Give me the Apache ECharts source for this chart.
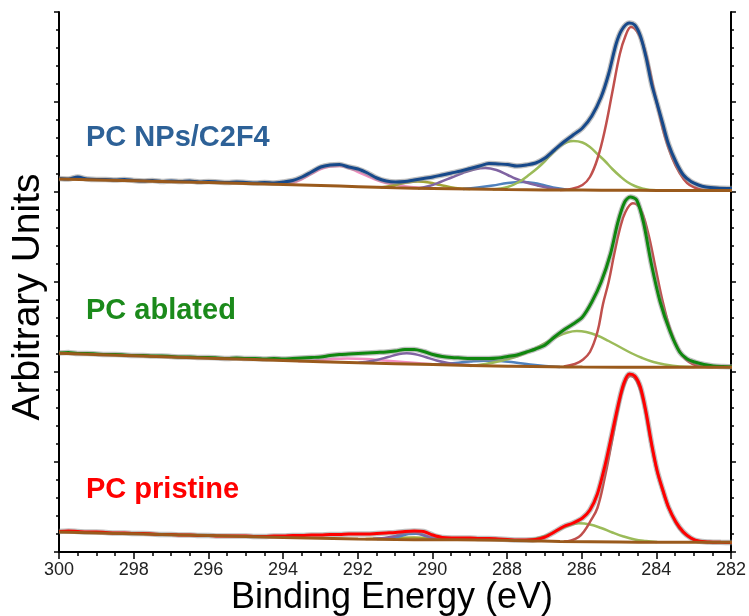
<!DOCTYPE html>
<html><head><meta charset="utf-8">
<script src="https://cdn.jsdelivr.net/npm/echarts@6/dist/echarts.min.js"></script>
<style>html,body{margin:0;padding:0;background:#fff}#c{width:749px;height:616px}</style>
</head><body><div id="c"></div>
<script>
// ---------- DATA (binding energy eV, intensity in arbitrary units per panel) ----------
const panelNames = ['PC NPs/C2F4', 'PC ablated', 'PC pristine'];
const xAxisTitle = 'Binding Energy (eV)';
const yAxisTitle = 'Arbitrary Units';

// Top panel: PC NPs/C2F4
const topData = [[300,13.5],[299.75,13],[299.5,15],[299.25,13],[299,12.5],[298.75,12.5],[298.5,12],[298.25,12.5],[298,11.5],[297.75,11],[297.5,11.5],[297.25,10.5],[297,11],[296.75,10.5],[296.5,11],[296.25,10],[296,10.5],[295.75,10],[295.5,9.5],[295.25,10],[295,9.5],[294.75,9],[294.5,9.5],[294.25,9],[294,10],[293.75,11.5],[293.5,15],[293.25,20],[293,25],[292.75,27],[292.5,27.5],[292.25,25],[292,23],[291.75,19],[291.5,14],[291.25,11],[291,10],[290.75,10.5],[290.5,12],[290.25,13.5],[290,15],[289.75,17],[289.5,19],[289.25,21],[289,23.5],[288.75,26],[288.5,28.5],[288.25,28],[288,27.5],[287.75,26],[287.5,27],[287.25,29],[287,34],[286.75,42],[286.5,50],[286.25,57],[286,64],[285.75,76],[285.5,95],[285.3,118],[285.1,148],[284.95,162],[284.75,169],[284.6,167],[284.45,156],[284.3,135],[284.15,108],[284,88],[283.85,68],[283.7,48],[283.5,30],[283.3,17],[283.1,10.5],[282.9,7],[282.7,5],[282.4,4],[282,3.5]];
const topBase = [[300,13],[298,11.2],[296,9.4],[294,7.6],[293,6.5],[292,5.3],[291,4.2],[290,3.5],[289,2.9],[288,2.4],[287,2.1],[286,1.9],[285,1.7],[284,1.6],[282,1.5]];
const topC1 = [[286.6,2],[286.3,3],[286,7],[285.8,15],[285.6,33],[285.4,62],[285.2,100],[285,138],[284.85,156],[284.7,165],[284.55,161],[284.4,150],[284.25,130],[284.1,104],[283.95,79],[283.8,56],[283.6,34],[283.4,19],[283.2,9],[283,4.5],[282.8,2.2],[282.5,1.6]];
const topC2 = [[288.4,2.5],[288,5],[287.7,10],[287.4,18],[287.2,24],[287,31],[286.8,39],[286.6,46],[286.4,50],[286.24,51],[286,49.5],[285.8,45],[285.6,38],[285.4,31],[285.2,23],[285,16],[284.8,10],[284.6,6],[284.4,3.5],[284.2,2],[283.8,1.6]];
const topPurple = [[290.4,3.5],[290.1,6],[289.8,10],[289.5,14.5],[289.2,19],[288.9,22.5],[288.6,24],[288.3,22],[288,17],[287.8,13.5],[287.5,9.5],[287.2,6.5],[286.9,4],[286.6,2.4]];
const topBlue = [[289.2,3],[288.8,4.5],[288.4,6.5],[288,9],[287.6,10],[287.3,9],[287,6.5],[286.7,4],[286.4,2.3]];
const topOlive = [[291.4,4.5],[291,7],[290.7,9.5],[290.4,10.5],[290.1,9.5],[289.8,7],[289.4,4],[289,3]];
const topPink = [[294,7.6],[293.75,9],[293.5,13],[293.25,18],[293,23],[292.75,25.5],[292.5,26],[292.25,24],[292,20],[291.75,16],[291.5,12],[291.25,9],[291,7],[290.6,5],[290.2,3.8]];

// Middle panel: PC ablated
const midData = [[300,19],[299.75,19.5],[299.5,18.5],[299.25,18.5],[299,18],[298.75,17.5],[298.5,17.5],[298.25,17],[298,16.5],[297.75,16.5],[297.5,16],[297.25,16],[297,15.5],[296.75,15],[296.5,15],[296.25,14.5],[296,14.5],[295.75,14],[295.5,13.5],[295.25,14],[295,13.5],[294.75,13.5],[294.5,13],[294.25,13.5],[294,13],[293.75,13.5],[293.5,14],[293.25,14.5],[293,15],[292.75,16.5],[292.5,17.5],[292.25,18],[292,18.5],[291.75,19],[291.5,19.5],[291.25,20],[291,21],[290.75,22.5],[290.5,22.5],[290.25,20.5],[290,17.5],[289.75,15.5],[289.5,14.5],[289.25,14],[289,13.5],[288.75,13.5],[288.5,13.5],[288.25,14],[288,15.5],[287.75,17],[287.5,20],[287.25,23],[287,27],[286.75,35],[286.5,42],[286.25,48],[286,55],[285.75,70],[285.5,90],[285.25,118],[285.05,150],[284.87,170],[284.72,175],[284.55,172],[284.37,150],[284.15,107],[283.92,70],[283.65,40],[283.4,20],[283.2,13],[283,10],[282.75,7.5],[282.5,6],[282.25,5.5],[282,5.3]];
const midBase = [[300,18.7],[298,16.2],[296,13.8],[294,11.5],[292,9.3],[290,7.5],[288,5.8],[286,4.9],[284,4.8],[282,4.8]];
const midC1 = [[286.5,5.5],[286.2,8],[286,12],[285.8,20],[285.6,40],[285.45,68],[285.3,90],[285.15,118],[285,143],[284.85,160],[284.65,168.7],[284.45,163],[284.25,140],[284.05,105],[283.85,70],[283.65,42],[283.45,24],[283.25,13],[283.05,8],[282.8,5.5],[282.5,5]];
const midC2 = [[289,6],[288.6,8],[288.2,11],[287.8,15],[287.4,21],[287,29],[286.7,35],[286.4,39.5],[286.15,41],[285.9,40],[285.6,36.5],[285.3,31],[285,25],[284.7,19],[284.4,14],[284.1,10],[283.8,7.5],[283.4,5.5],[283,5]];
const midPurple = [[292,9.5],[291.8,10],[291.5,12],[291.2,15],[290.9,18],[290.7,18.7],[290.5,18],[290.2,15],[289.9,11.5],[289.6,9],[289.3,7.5],[289,7]];
const midBlue = [[290,7.5],[289.8,7.8],[289.4,9],[289,10.5],[288.6,11.3],[288.2,11],[287.8,9.5],[287.4,7.5],[287,6],[286.6,5]];
const midPink = [[293.6,10.8],[293.3,11.2],[292.8,12.5],[292.3,13.5],[291.8,13],[291.3,11.5],[290.8,10],[290.3,8.5],[289.8,7.3]];

// Bottom panel: PC pristine
const botData = [[300,20.5],[299.75,21],[299.5,20.5],[299.25,20],[299,20],[298.75,19.5],[298.5,19],[298.25,19],[298,18.5],[297.75,18.5],[297.5,18],[297.25,17.5],[297,17.5],[296.75,17],[296.5,17],[296.25,16.5],[296,16.5],[295.75,16],[295.5,16],[295.25,16],[295,16],[294.75,15.5],[294.5,15.5],[294.25,16],[294,16],[293.75,16.5],[293.5,16.5],[293.25,17],[293,17],[292.75,17.5],[292.5,17.5],[292.25,18],[292,18],[291.75,18],[291.5,18.5],[291.25,19],[291,19.5],[290.75,20.5],[290.5,21],[290.25,20.5],[290,17],[289.75,14.5],[289.5,14],[289.25,14],[289,14],[288.75,13.5],[288.5,13.5],[288.25,13],[288,12.5],[287.75,12],[287.5,12],[287.25,12.5],[287,15],[286.75,20],[286.5,25.5],[286.25,29],[286,34],[285.8,42],[285.6,58],[285.4,86],[285.2,120],[285.05,146],[284.9,168],[284.75,178],[284.6,176],[284.45,165],[284.3,140],[284.15,108],[284,81],[283.85,62],[283.7,45],[283.5,30],[283.3,20],[283.1,14],[282.9,11],[282.6,10],[282.3,9.7],[282,9.5]];
const botBase = [[300,20],[298,18.2],[296,16.4],[294,14.6],[292,13],[291,12.5],[290,12.2],[288.7,12],[287.5,11.3],[286.6,10.5],[285,10],[284,9.8],[282,9.7]];
const botC1 = [[286.5,10.5],[286.3,11.5],[286.1,15],[285.95,21],[285.8,30],[285.6,44],[285.4,75],[285.2,113],[285.05,142],[284.9,165],[284.72,176],[284.55,171],[284.37,150],[284.19,114],[284,80],[283.8,55],[283.6,36],[283.4,23],[283.2,16],[283,12],[282.7,10],[282.4,9.8]];
const botC2 = [[287.6,11.4],[287.3,13],[287,16],[286.7,21],[286.4,26],[286.1,28.7],[285.8,27.5],[285.5,24],[285.2,19.5],[284.9,15.5],[284.6,12.5],[284.3,11],[284,10]];
const botPurple = [[291.6,13.2],[291.3,14],[291,16],[290.75,19],[290.55,19.8],[290.35,18.5],[290.1,15],[289.8,13],[289.5,12.3]];
const botBlue = [[291.5,13],[291.2,13.8],[290.9,15.5],[290.65,18],[290.45,18.3],[290.2,16],[289.9,13.5],[289.6,12.3]];
const botOlive = [[291.8,13],[291.3,13.6],[290.9,14.2],[290.5,14.5],[290.1,14],[289.7,12.8],[289.3,12.2]];

// ---------- CHART ----------
const C = {
  c1:'#c0504d', c2:'#9bbb59', purple:'#8064a2', blue:'#4f81bd', pink:'#f28fc2', olive:'#a3a336', base:'#9a5a1c', env:'rgba(140,140,140,0.55)'
};
const panels = [
  {top:12, data:topData, color:'#17498a', label:'#2d6197', base:topBase,
   comps:[[topPink,C.pink],[topOlive,C.olive],[topBlue,C.blue],[topPurple,C.purple],[topC2,C.c2],[topC1,C.c1]]},
  {top:192, data:midData, color:'#0f870f', label:'#1b8a1b', base:midBase,
   comps:[[midPink,C.pink],[midBlue,C.blue],[midPurple,C.purple],[midC2,C.c2],[midC1,C.c1]]},
  {top:372, data:botData, color:'#ff0000', label:'#ff0000', base:botBase,
   comps:[[botOlive,C.olive],[botBlue,C.blue],[botPurple,C.purple],[botC2,C.c2],[botC1,C.c1]]}
];
const L = 59, R = 17, T = 12, H = 540;
const grids = [{left:L, right:R, top:T, height:H}];
const xAxes = [
  {gridIndex:0, type:'value', min:282, max:300, inverse:true, interval:2, position:'bottom',
   axisLine:{lineStyle:{color:'#000', width:2}}, axisTick:{length:7, lineStyle:{color:'#000', width:1.5}},
   minorTick:{show:true, splitNumber:4, length:4, lineStyle:{color:'#000', width:1.5}},
   axisLabel:{fontSize:18, color:'#222', margin:9, fontFamily:'Liberation Sans, Arial'}, splitLine:{show:false}},
  {gridIndex:0, type:'value', min:282, max:300, inverse:true, position:'top',
   axisLine:{show:true, lineStyle:{color:'#000', width:2}}, axisTick:{show:false}, axisLabel:{show:false}, splitLine:{show:false}}
];
const yFrame = (pos) => ({gridIndex:0, type:'value', min:0, max:30, interval:5, position:pos,
   axisLine:{show:true, lineStyle:{color:'#000', width:2}}, axisTick:{show:true, length:5, lineStyle:{color:'#000', width:1.5}},
   minorTick:{show:true, splitNumber:5, length:3, lineStyle:{color:'#000', width:1.5}},
   axisLabel:{show:false}, splitLine:{show:false}});
const yAxes = [yFrame('left'), yFrame('right')];
const series = [];
const graphics = [];
panels.forEach((p, i) => {
  grids.push({left:L, right:R, top:p.top, height:180});
  xAxes.push({gridIndex:i+1, type:'value', min:282, max:300, inverse:true, show:false});
  yAxes.push({gridIndex:i+1, type:'value', min:0, max:180, show:false});
  const xi = i+2, yi = i+2;
  p.comps.forEach(([d, col]) => series.push({type:'line', xAxisIndex:xi, yAxisIndex:yi, data:d, smooth:0.4,
    showSymbol:false, lineStyle:{color:col, width:2.5}, z:3, silent:true}));
  series.push({type:'line', xAxisIndex:xi, yAxisIndex:yi, data:p.data, smooth:0.3, showSymbol:false,
    lineStyle:{color:C.env, width:5.5}, z:4, silent:true});
  series.push({type:'line', xAxisIndex:xi, yAxisIndex:yi, data:p.data, smooth:0.3, showSymbol:false,
    lineStyle:{color:p.color, width:3}, z:5, silent:true});
  series.push({type:'line', xAxisIndex:xi, yAxisIndex:yi, data:p.base, smooth:0.4, showSymbol:false,
    lineStyle:{color:C.base, width:3}, z:6, silent:true});
});
const labelY = [138, 311, 490];
panels.forEach((p, i) => graphics.push({type:'text', left:86, top:labelY[i]-15,
  style:{text:panelNames[i], fill:p.label, font:'bold 29px "Liberation Sans", Arial, sans-serif'}}));
graphics.push({type:'text', x:28, y:297, rotation:Math.PI/2,
  style:{text:yAxisTitle, fill:'#000', font:'39px "Liberation Sans", Arial, sans-serif', align:'center', verticalAlign:'middle'}});
graphics.push({type:'text', x:392, y:598,
  style:{text:xAxisTitle, fill:'#000', font:'36px "Liberation Sans", Arial, sans-serif', align:'center', verticalAlign:'middle'}});

const chart = echarts.init(document.getElementById('c'), null, {renderer:'canvas'});
chart.setOption({animation:false, backgroundColor:'#fff', grid:grids, xAxis:xAxes, yAxis:yAxes, series:series, graphic:graphics});
</script></body></html>
